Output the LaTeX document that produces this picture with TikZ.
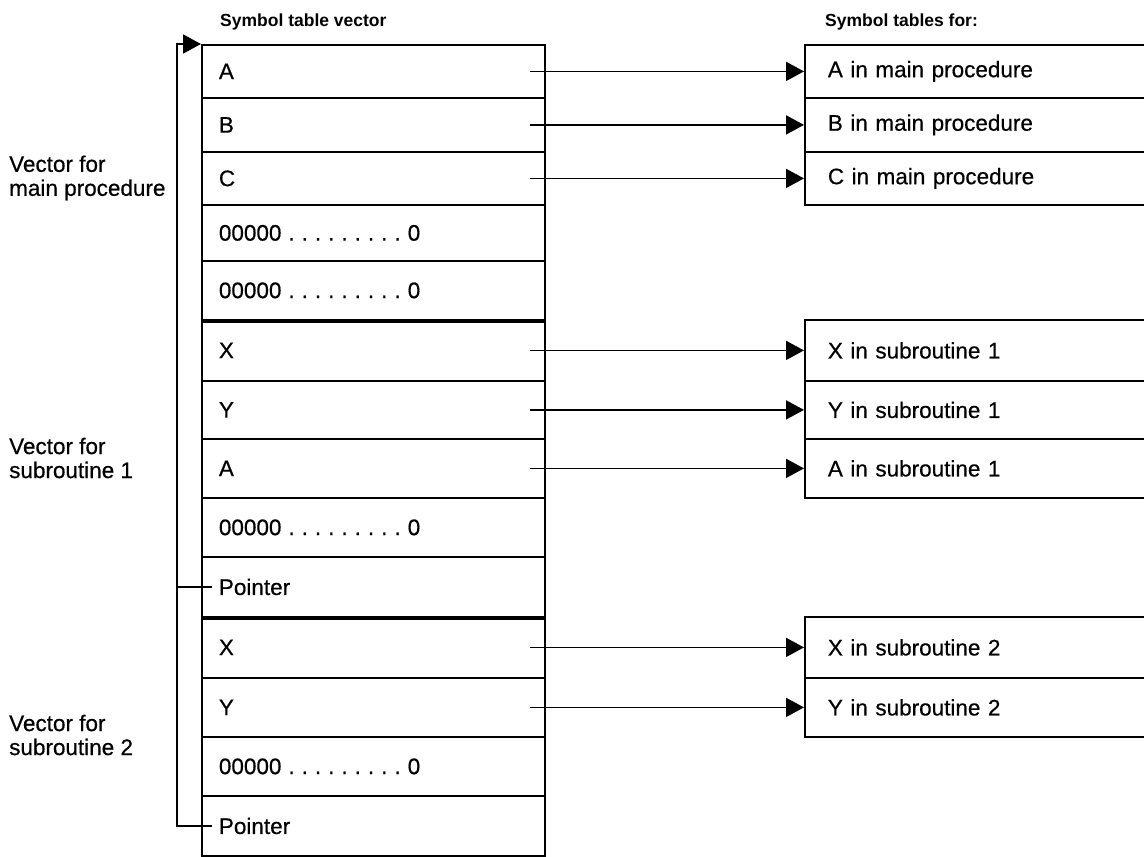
\documentclass[tikz,border=0pt]{standalone}
\usepackage{fontspec}
\setmainfont{Liberation Sans}
\newfontfamily\medfont{Liberation Sans}[FakeBold=0.5]
\usetikzlibrary{arrows.meta}

% one row of the vector: name, top, bottom, text
\newcommand\vcell[4]{\node[vcell, minimum height={#3-#2}] (#1) at (201,#2) {#4};}
% one symbol table box: name, top, bottom, text
\newcommand\tcell[4]{\node[tcell, minimum height={#3-#2}] (#1) at (804,#2) {#4};}
% an empty slot of the vector
\newcommand\zslot{00000\hspace{7pt}\foreach\k in {1,...,9}{.\hspace{7pt}}0}

\begin{document}
\begin{tikzpicture}[x=1pt,y=-1pt,
  rule/.style={line width=1.8pt},
  tip/.style={-{Triangle[length=18pt,width=19pt]}},
  txt/.style={font=\fontsize{22.5}{24}\medfont},
  vcell/.style={draw, rule, txt, rectangle, anchor=north west,
    minimum width=343pt, text width=309pt, inner xsep=17pt, inner ysep=0pt, align=left},
  tcell/.style={draw, rule, txt, rectangle, anchor=north west,
    minimum width=350pt, text width=304pt, inner xsep=23pt, inner ysep=0pt, align=left},
  head/.style={font=\fontsize{17.5}{20}\selectfont\bfseries, anchor=west, inner sep=0pt},
  side/.style={txt, align=left, anchor=west, inner sep=0pt}
]
\useasboundingbox (0,0) rectangle (1144,857);

% headings
\node[head] (hv) at (220,22) {Symbol table vector};
\node[head] (ht) at (825,22) {Symbol tables for:};

% side labels
\node[side] (lm) at (9,178) {Vector for\\main procedure};
\node[side] (l1) at (9,458) {Vector for\\subroutine 1};
\node[side] (l2) at (9,735) {Vector for\\subroutine 2};

% the symbol table vector
\vcell{r1}{44}{97}{A}
\vcell{r2}{97}{151}{B}
\vcell{r3}{151}{204}{C}
\vcell{r4}{204}{260}{\zslot}
\vcell{r5}{260}{319}{\zslot}
\vcell{r6}{319}{380}{X}
\vcell{r7}{380}{438}{Y}
\vcell{r8}{438}{497}{A}
\vcell{r9}{497}{556}{\zslot}
\vcell{p1}{556}{616}{Pointer}
\vcell{r11}{616}{677}{X}
\vcell{r12}{677}{736}{Y}
\vcell{r13}{736}{795}{\zslot}
\vcell{p2}{795}{855}{Pointer}

% heavier rules between the vectors
\draw[line width=4pt] (r5.south west) -- (r5.south east);
\draw[line width=4pt] (p1.south west) -- (p1.south east);

% symbol tables
\tcell{t1}{44}{97}{A in main procedure}
\tcell{t2}{97}{151}{B in main procedure}
\tcell{t3}{151}{204}{C in main procedure}
\tcell{t4}{319}{380}{X in subroutine 1}
\tcell{t5}{380}{438}{Y in subroutine 1}
\tcell{t6}{438}{497}{A in subroutine 1}
\tcell{t7}{616}{677}{X in subroutine 2}
\tcell{t8}{677}{736}{Y in subroutine 2}

% entries pointing to their tables
\foreach \a/\b in {r1/t1, r2/t2, r3/t3, r6/t4, r7/t5, r8/t6, r11/t7, r12/t8}
  \draw[rule, tip] ([xshift=-16pt]\a.east) -- (\b.west);

% pointers back to the start of the vector
\coordinate (rail) at (177,0);
\draw[rule, tip] ([xshift=11pt]p2.west) -- (rail |- p2.west) -- (rail |- r1.north west) -- (r1.north west);
\draw[rule] ([xshift=11pt]p1.west) -- (rail |- p1.west);
\end{tikzpicture}
\end{document}
